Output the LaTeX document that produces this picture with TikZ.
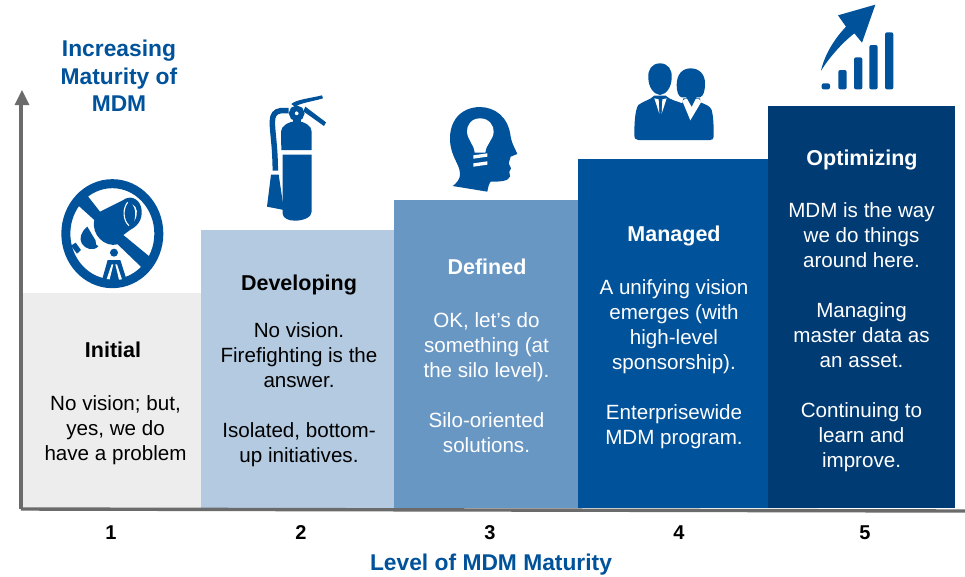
\documentclass[tikz,border=0pt]{standalone}
\usepackage{fontspec}
\setmainfont{Liberation Sans}
\definecolor{barA}{HTML}{EDEDED}
\definecolor{barB}{HTML}{B3CAE1}
\definecolor{barC}{HTML}{6997C4}
\definecolor{barD}{HTML}{00529B}
\definecolor{barE}{HTML}{003B73}
\definecolor{iconblue}{HTML}{00529B}
\definecolor{axisgray}{HTML}{6B6B6B}
\tikzset{
 barbox/.style={anchor=north west,inner sep=0pt,outer sep=0pt,draw=none},
 bodytext/.style={align=center,font=\fontsize{20.6}{25}\selectfont,inner sep=0pt,anchor=center},
 headtext/.style={font=\fontsize{21.5}{25}\selectfont\bfseries,inner sep=0pt},
 numtext/.style={font=\fontsize{20}{24}\selectfont\bfseries,inner sep=0pt},
 axislabel/.style={font=\fontsize{22.8}{27.5}\selectfont\bfseries,text=iconblue,align=center,inner sep=0pt},
 axisline/.style={draw=axisgray,line width=3.4pt},
 icon/.style={fill=iconblue,draw=none},
 iconcut/.style={fill=white,draw=none},
 zoomB/.style={xshift=400pt,x=0.33333pt,y=-0.33333pt},
 zoomT/.style={xshift=55pt,yshift=-175pt,x=0.33333pt,y=-0.33333pt},
 zoomP/.style={xshift=625pt,yshift=-55pt,x=0.33333pt,y=-0.33333pt},
 zoomF/.style={xshift=260pt,yshift=-90pt,x=0.33333pt,y=-0.33333pt},
}
\begin{document}
\begin{tikzpicture}[x=1pt,y=-1pt]
\useasboundingbox (0,0) rectangle (965,576);
\fill[white] (0,0) rectangle (965,576);
% bars
\node[barbox,fill=barA,minimum width=179pt,minimum height=215pt] (b1) at (22,293) {};
\node[barbox,fill=barB,minimum width=193pt,minimum height=278pt] (b2) at (201,230) {};
\node[barbox,fill=barC,minimum width=184pt,minimum height=308pt] (b3) at (394,200) {};
\node[barbox,fill=barD,minimum width=190pt,minimum height=349pt] (b4) at (578,159) {};
\node[barbox,fill=barE,minimum width=187pt,minimum height=402pt] (b5) at (768,106) {};
% axes
\coordinate (origin) at (21,509);
\coordinate (ytip) at (22,90);
\coordinate (xend) at (965,511);
\draw[axisline] (origin) -- (21,104);
\fill[axisgray] (ytip) -- (29.5,105) -- (14.5,105) -- cycle;
\draw[axisline] (origin) -- (xend);
% text
\node[headtext] (t1) at (113,350) {Initial};
\node[bodytext] (d1) at (115.5,430) {No vision; but,\\yes, we do\\have a problem};
\node[headtext] (t2) at (299,285) {Developing};
\node[bodytext] (d2) at (299,395) {No vision.\\Firefighting is the\\answer.\\[25pt]Isolated, bottom-\\up initiatives.};
\node[headtext,text=white] (t3) at (487,267) {Defined};
\node[bodytext,text=white] (d3) at (486.5,383) {OK, let's do\\something (at\\the silo level).\\[25pt]Silo-oriented\\solutions.};
\node[headtext,text=white] (t4) at (674,236) {Managed};
\node[bodytext,text=white] (d4) at (674,364) {A unifying vision\\emerges (with\\high-level\\sponsorship).\\[25pt]Enterprisewide\\MDM program.};
\node[headtext,text=white] (t5) at (862,159.5) {Optimizing};
\node[bodytext,text=white] (d5) at (861.5,337) {MDM is the way\\we do things\\around here.\\[25pt]Managing\\master data as\\an asset.\\[25pt]Continuing to\\learn and\\improve.};
\node[numtext] (n1) at (111,533) {1};
\node[numtext] (n2) at (301,533) {2};
\node[numtext] (n3) at (490,533) {3};
\node[numtext] (n4) at (679,533) {4};
\node[numtext] (n5) at (865,533) {5};
\node[axislabel] (xl) at (491,565) {Level of MDM Maturity};
\node[axislabel] (yl) at (119,76) {Increasing\\Maturity of\\MDM};
% telescope icon
\begin{scope}[zoomT]
\draw[iconblue,line width=9pt] (172,176) ellipse (139.5 and 150);
\fill[icon] (88,50) -- (135,110) -- (205,75) .. controls (225,60) and (250,70) .. (258,95) .. controls (265,125) and (255,150) .. (225,165) -- (205,180) -- (290,250) -- (268,285) -- (188,208) .. controls (150,218) and (108,180) .. (118,135) -- (55,78) -- cycle;
\draw[white,line width=1.1pt] (218,82) .. controls (203,100) and (203,135) .. (222,152);
\fill[iconcut] (232,88) .. controls (248,95) and (250,118) .. (238,138) .. controls (243,118) and (242,100) .. (232,88) -- cycle;
\fill[icon] (97,155) -- (122,197) .. controls (118,205) and (125,212) .. (130,214) .. controls (115,230) and (90,222) .. (80,205) .. controls (72,190) and (78,170) .. (97,155) -- cycle;
\fill[icon] (62,203) -- (78,225) -- (66,236) -- (48,212) -- cycle;
\fill[icon] (177,233) circle (12);
\fill[icon] (158,255) -- (196,255) -- (215,315) .. controls (190,325) and (165,325) .. (141,315) -- cycle;
\fill[iconcut] (170,268) -- (155,312) -- (164,313) -- (175,268) -- cycle;
\fill[iconcut] (181,268) -- (192,314) -- (201,313) -- (186,268) -- cycle;
\end{scope}
% extinguisher
\begin{scope}[zoomF]
\fill[icon] (63,125) .. controls (63,108) and (85,95) .. (110,93) .. controls (135,95) and (155,108) .. (155,125) -- (155,180) -- (64,180) -- cycle;
\fill[icon] (68,194) -- (155,194) -- (155,365) .. controls (155,382) and (130,392) .. (105,392) .. controls (85,392) and (70,385) .. (68,372) -- cycle;
\fill[icon] (100,85) rectangle (122,95);
\draw[iconblue,line width=5.5pt] (110,70) circle (15);
\fill[icon] (94,42) .. controls (110,28) and (150,25) .. (186,16) -- (189,25) .. controls (155,35) and (125,38) .. (104,50) -- cycle;
\fill[icon] (136,50) -- (198,97) -- (192,108) -- (130,64) -- cycle;
\draw[iconblue,line width=5.5pt] (86,62) -- (62,62) .. controls (45,64) and (37,75) .. (37,95) .. controls (37,130) and (45,160) .. (46,242);
\fill[icon] (33,254) -- (56,254) -- (72,360) -- (21,350) -- cycle;
\end{scope}
\begin{scope}[zoomB]
% head
\fill[icon] (240,321) .. controls (180,322) and (148,365) .. (150,420) .. controls (152,470) and (178,490) .. (180,520) .. controls (182,535) and (170,550) .. (158,558) -- (262,575) .. controls (264,560) and (268,550) .. (272,545) .. controls (295,545) and (325,545) .. (330,530) -- (328,515) -- (333,505) -- (326,490) -- (332,470) -- (352,462) .. controls (345,445) and (335,430) .. (332,410) .. controls (325,350) and (285,322) .. (240,321) -- cycle;
\fill[iconcut] (240,355) .. controls (212,355) and (200,378) .. (201,395) .. controls (202,420) and (222,432) .. (224,458) -- (256,458) .. controls (258,432) and (280,420) .. (281,395) .. controls (282,378) and (268,355) .. (240,355) -- cycle;
\fill[iconcut] (220,466) -- (262,460) -- (262,470) -- (220,476) -- cycle;
\fill[iconcut] (220,490) -- (262,484) -- (262,494) -- (220,500) -- cycle;
% chart
\fill[icon,rounded corners=2pt] (1265,250) rectangle (1290,268);
\fill[icon,rounded corners=2pt] (1315,210) rectangle (1340,268);
\fill[icon,rounded corners=2pt] (1362,172) rectangle (1387,268);
\fill[icon,rounded corners=2pt] (1408,135) rectangle (1433,268);
\fill[icon,rounded corners=2pt] (1455,97) rectangle (1480,268);
\fill[icon] (1263,212) .. controls (1275,160) and (1305,115) .. (1338,80) -- (1314,46) -- (1426,14) -- (1386,128) -- (1363,100) .. controls (1325,130) and (1290,170) .. (1263,212) -- cycle;
\end{scope}
% people
\begin{scope}[zoomP]
\fill[icon] (105,25) .. controls (80,25) and (68,45) .. (70,68) .. controls (70,95) and (85,118) .. (105,120) .. controls (125,118) and (140,95) .. (140,68) .. controls (142,45) and (130,25) .. (105,25) -- cycle;
\fill[icon] (197,40) .. controls (170,40) and (155,60) .. (155,90) .. controls (155,110) and (160,125) .. (170,127) -- (225,127) .. controls (237,122) and (240,105) .. (240,85) .. controls (240,60) and (225,40) .. (197,40) -- cycle;
\fill[icon] (40,255) .. controls (32,255) and (28,250) .. (28,240) .. controls (28,205) and (30,165) .. (40,150) .. controls (55,138) and (75,135) .. (88,122) -- (122,122) .. controls (135,135) and (155,138) .. (172,145) -- (175,130) -- (225,130) -- (226,142) .. controls (240,148) and (255,152) .. (260,165) .. controls (266,190) and (266,215) .. (266,245) .. controls (266,252) and (262,255) .. (255,255) -- cycle;
\fill[iconcut] (88,130) -- (101,133) -- (103,176) -- cycle;
\fill[iconcut] (125,130) -- (112,133) -- (110,176) -- cycle;
\fill[iconcut] (172,138) -- (180,132) -- (222,132) -- (228,142) -- (196,196) -- cycle;
\fill[icon] (180,120) -- (218,120) -- (200,155) -- cycle;
\end{scope}
\end{tikzpicture}
\end{document}
